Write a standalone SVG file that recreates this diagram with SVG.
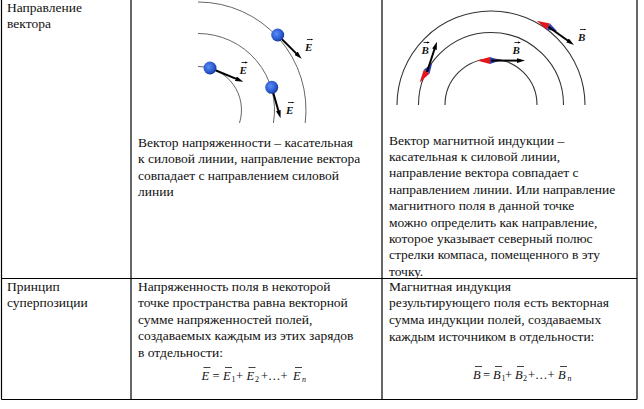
<svg xmlns="http://www.w3.org/2000/svg" width="644" height="409" viewBox="0 0 644 409">
<defs>
<style>
 .t{font-family:"Liberation Serif","Times New Roman",serif;font-size:13.5px;fill:#111}
 .grid{stroke:#000;stroke-width:1.2;fill:none}
 .earc{stroke:#666;stroke-width:1;fill:none}
 .barc{stroke:#333;stroke-width:1.1;fill:none}
 .vec{stroke:#000;stroke-width:2;marker-end:url(#ah)}
 .lab{font-family:"Liberation Serif",serif;font-style:italic;font-weight:bold;font-size:11px;fill:#111}
 .tiny{stroke:#000;stroke-width:0.8;marker-end:url(#th)}
 .f{font-family:"Liberation Serif",serif;font-size:12.5px;fill:#111}
 .i{font-style:italic}
 .s{font-size:8px}
 .bar{stroke:#111;stroke-width:0.8}
 .red{fill:#e3161b}
 .blue{fill:#2f3fae}
</style>
<radialGradient id="dot" cx="0.4" cy="0.4" r="0.6">
 <stop offset="0" stop-color="#5b8cf2"/><stop offset="0.7" stop-color="#2b5bd0"/><stop offset="1" stop-color="#1a3a9a"/>
</radialGradient>
<marker id="ah" viewBox="0 0 10 6" refX="3" refY="3" markerWidth="8" markerHeight="4.8" markerUnits="userSpaceOnUse" orient="auto"><path d="M0,0 L10,3 L0,6 z" fill="#000"/></marker>
<marker id="th" viewBox="0 0 6 4" refX="3" refY="2" markerWidth="3" markerHeight="2.2" markerUnits="userSpaceOnUse" orient="auto"><path d="M0,0 L6,2 L0,4 z" fill="#000"/></marker>
</defs>

<g id="grid" class="grid">
 <line x1="1.5" y1="0" x2="1.5" y2="399.5"/>
 <line x1="131" y1="0" x2="131" y2="399.5"/>
 <line x1="382" y1="0" x2="382" y2="399.5"/>
 <line x1="637" y1="0" x2="637" y2="399.5"/>
 <line x1="1.5" y1="278.5" x2="637" y2="278.5"/>
 <line x1="1.5" y1="399.5" x2="637" y2="399.5"/>
</g>

<g id="cell-r1c0" class="t">
 <text x="7" y="12">Направление</text>
 <text x="7" y="28">вектора</text>
</g>

<g id="fig-E">
 <path class="earc" d="M198 66.5 A43.5 43.5 0 0 1 239.5 123"/>
 <path class="earc" d="M198 33.5 A76.5 76.5 0 0 1 273.4 123"/>
 <path class="earc" d="M198 2 A108 108 0 0 1 305.2 123"/>
 <line class="vec" x1="210" y1="68" x2="238.1" y2="79.6"/>
 <line class="vec" x1="277.7" y1="35" x2="297.7" y2="54.9"/>
 <line class="vec" x1="271.7" y1="87.3" x2="279" y2="112.9"/>
 <circle cx="210" cy="68" r="6.5" fill="url(#dot)"/>
 <circle cx="277.7" cy="35" r="6.5" fill="url(#dot)"/>
 <circle cx="271.7" cy="87.3" r="6.5" fill="url(#dot)"/>
 <text class="lab" x="239.5" y="73.5">E</text>
 <line class="tiny" x1="241.5" y1="62.5" x2="246.5" y2="62.5"/>
 <text class="lab" x="305" y="50.5">E</text>
 <line class="tiny" x1="307" y1="39.5" x2="312" y2="39.5"/>
 <text class="lab" x="286" y="113.5">E</text>
 <line class="tiny" x1="288" y1="102.5" x2="293" y2="102.5"/>
</g>

<g id="fig-B">
 <path class="barc" d="M397 105 A94 94 0 0 1 585 105"/>
 <path class="barc" d="M418.5 105 A72.5 72.5 0 0 1 563.5 105"/>
 <path class="barc" d="M445 105 A46 46 0 0 1 537 105"/>
 <g transform="translate(490 60.6)"><polygon class="red" points="-13,0 0,-3.5 0,3.5"/><polygon class="blue" points="10,0 0,-3.5 0,3.5"/></g>
 <g transform="translate(426.7 71.7) rotate(-57)"><polygon class="red" points="-13,0 0,-3.5 0,3.5"/><polygon class="blue" points="10,0 0,-3.5 0,3.5"/></g>
 <g transform="translate(548.3 26.7) rotate(27)"><polygon class="red" points="-13,0 0,-3.5 0,3.5"/><polygon class="blue" points="10,0 0,-3.5 0,3.5"/></g>
 <line class="vec" x1="427" y1="72" x2="435.2" y2="47"/>
 <line class="vec" x1="491" y1="60.6" x2="519.4" y2="60.6"/>
 <line class="vec" x1="548.3" y1="26.7" x2="569.4" y2="41.8"/>
 <text class="lab" x="421.5" y="53.5">B</text>
 <line class="tiny" x1="423.5" y1="42.5" x2="428.5" y2="42.5"/>
 <text class="lab" x="512.5" y="53.5">B</text>
 <line class="tiny" x1="514.5" y1="42.5" x2="519.5" y2="42.5"/>
 <text class="lab" x="578" y="40.5">B</text>
 <line class="tiny" x1="580" y1="29.5" x2="585" y2="29.5"/>
</g>

<g id="cell-r1c1" class="t">
 <text x="138" y="146.5">Вектор напряженности – касательная</text>
 <text x="138" y="163">к силовой линии, направление вектора</text>
 <text x="138" y="179.5">совпадает с направлением силовой</text>
 <text x="138" y="196">линии</text>
</g>

<g id="cell-r1c2" class="t">
 <text x="389" y="144.5">Вектор магнитной индукции –</text>
 <text x="389" y="160.9">касательная к силовой линии,</text>
 <text x="389" y="177.3">направление вектора совпадает с</text>
 <text x="389" y="193.7">направлением линии. Или направление</text>
 <text x="389" y="210.1">магнитного поля в данной точке</text>
 <text x="389" y="226.5">можно определить как направление,</text>
 <text x="389" y="242.9">которое указывает северный полюс</text>
 <text x="389" y="259.3">стрелки компаса, помещенного в эту</text>
 <text x="389" y="275.7">точку.</text>
</g>

<g id="cell-r2c0" class="t">
 <text x="7" y="290.5">Принцип</text>
 <text x="7" y="307">суперпозиции</text>
</g>

<g id="cell-r2c1">
 <g class="t">
 <text x="138" y="290.5">Напряженность поля в некоторой</text>
 <text x="138" y="307">точке пространства равна векторной</text>
 <text x="138" y="323.5">сумме напряженностей полей,</text>
 <text x="138" y="340">создаваемых каждым из этих зарядов</text>
 <text x="138" y="356.5">в отдельности:</text>
 </g>
 <text class="f"><tspan class="i" x="201.5" y="379.5">E</tspan><tspan x="212.5" y="379.5">=</tspan><tspan class="i" x="223" y="379.5">E</tspan><tspan class="s" x="231.5" y="381.5">1</tspan><tspan x="236" y="379.5">+</tspan><tspan class="i" x="246.5" y="379.5">E</tspan><tspan class="s" x="255" y="381.5">2</tspan><tspan x="261" y="379.5">+…+</tspan><tspan class="i" x="293" y="379.5">E</tspan><tspan class="s i" x="302" y="381.5">n</tspan></text>
 <line class="bar" x1="203.5" y1="367.5" x2="210.5" y2="367.5"/>
 <line class="bar" x1="225" y1="367.5" x2="232" y2="367.5"/>
 <line class="bar" x1="248.5" y1="367.5" x2="255.5" y2="367.5"/>
 <line class="bar" x1="295" y1="367.5" x2="302" y2="367.5"/>
</g>

<g id="cell-r2c2">
 <g class="t">
 <text x="389" y="290.5">Магнитная индукция</text>
 <text x="389" y="307.3">результирующего поля есть векторная</text>
 <text x="389" y="324.1">сумма индукции полей, создаваемых</text>
 <text x="389" y="340.9">каждым источником в отдельности:</text>
 </g>
 <text class="f"><tspan class="i" x="473" y="378.5">B</tspan><tspan x="483" y="378.5">=</tspan><tspan class="i" x="493" y="378.5">B</tspan><tspan class="s" x="501.5" y="380.5">1</tspan><tspan x="505" y="378.5">+</tspan><tspan class="i" x="515" y="378.5">B</tspan><tspan class="s" x="523" y="380.5">2</tspan><tspan x="528" y="378.5">+…+</tspan><tspan class="i" x="558" y="378.5">B</tspan><tspan class="s i" x="567.5" y="380.5">n</tspan></text>
 <line class="bar" x1="475" y1="366.5" x2="482" y2="366.5"/>
 <line class="bar" x1="495" y1="366.5" x2="502" y2="366.5"/>
 <line class="bar" x1="517" y1="366.5" x2="524" y2="366.5"/>
 <line class="bar" x1="560" y1="366.5" x2="567" y2="366.5"/>
</g>
</svg>
